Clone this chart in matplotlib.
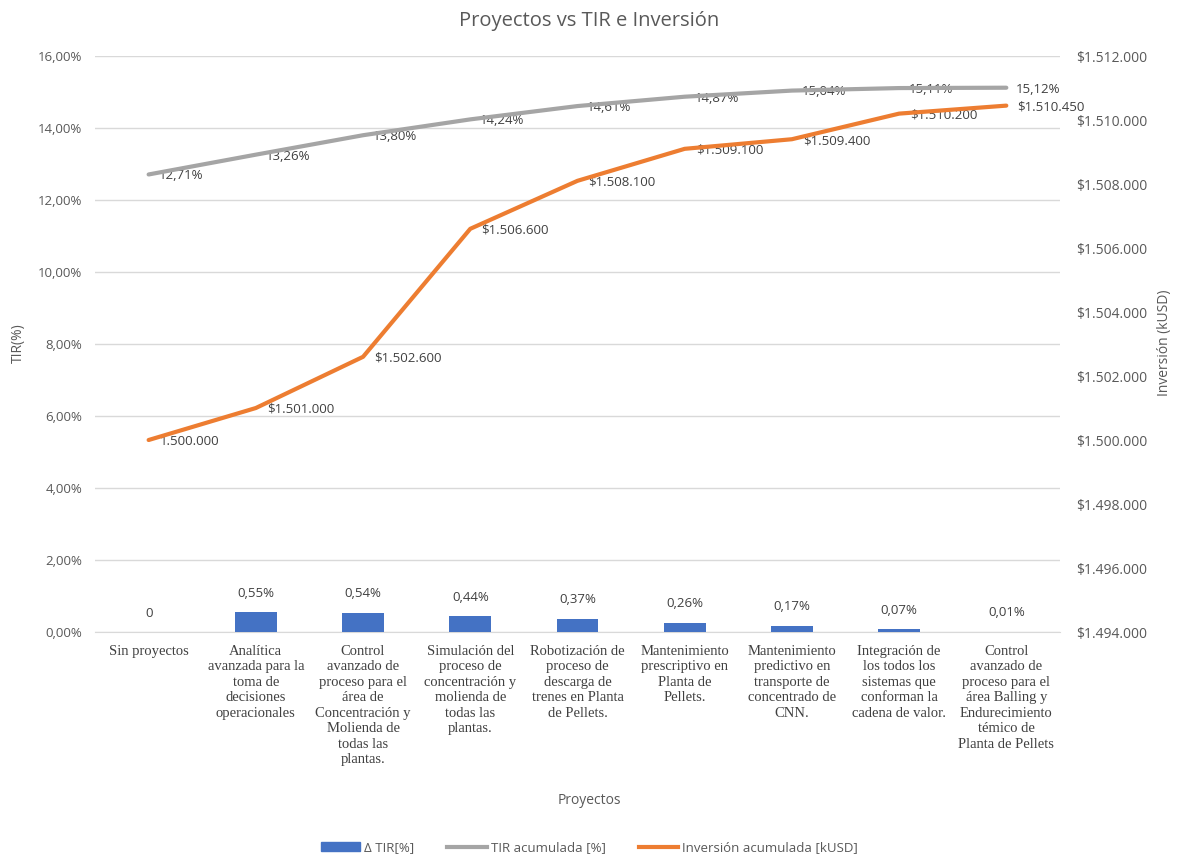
import matplotlib
matplotlib.use("Agg")
from matplotlib import pyplot as plt
from matplotlib.ticker import FuncFormatter, MultipleLocator
from matplotlib.lines import Line2D
from matplotlib.patches import Patch

proyectos = [
    "Sin proyectos",
    "Analítica\navanzada para la\ntoma de\ndecisiones\noperacionales",
    "Control\navanzado de\nproceso para el\nárea de\nConcentración y\nMolienda de\ntodas las\nplantas.",
    "Simulación del\nproceso de\nconcentración y\nmolienda de\ntodas las\nplantas.",
    "Robotización de\nproceso de\ndescarga de\ntrenes en Planta\nde Pellets.",
    "Mantenimiento\nprescriptivo en\nPlanta de\nPellets.",
    "Mantenimiento\npredictivo en\ntransporte de\nconcentrado de\nCNN.",
    "Integración de\nlos todos los\nsistemas que\nconforman la\ncadena de valor.",
    "Control\navanzado de\nproceso para el\nárea Balling y\nEndurecimiento\ntémico de\nPlanta de Pellets",
]
delta_tir = [0.0, 0.55, 0.54, 0.44, 0.37, 0.26, 0.17, 0.07, 0.01]
tir_acum = [12.71, 13.26, 13.80, 14.24, 14.61, 14.87, 15.04, 15.11, 15.12]
inversion = [1500000, 1501000, 1502600, 1506600, 1508100, 1509100, 1509400, 1510200, 1510450]

C_BAR = "#4472C4"
C_TIR = "#A5A5A5"
C_INV = "#ED7D31"
C_TXT = "#595959"
C_LBL = "#404040"
sans = ["Open Sans", "DejaVu Sans"]
serif = ["Liberation Serif", "DejaVu Serif"]


def pct(v, pos=None):
    return f"{v:.2f}".replace(".", ",") + "%"


def miles(v):
    return f"{int(round(v)):,}".replace(",", ".")


fig = plt.figure(figsize=(11.79, 8.58), dpi=100)
ax = fig.add_axes([0.0806, 0.2634, 0.8184, 0.6713])
ax2 = ax.twinx()

x = list(range(len(proyectos)))
ax.bar(x, delta_tir, width=0.39, color=C_BAR, zorder=3)
ax.plot(x, tir_acum, color=C_TIR, lw=3, zorder=4, solid_capstyle="round")
ax2.plot(x, inversion, color=C_INV, lw=3, zorder=4, solid_capstyle="round")

ax.set_xlim(-0.5, len(proyectos) - 0.5)
ax.set_ylim(0, 16)
ax.yaxis.set_major_locator(MultipleLocator(2))
ax.yaxis.set_major_formatter(FuncFormatter(pct))
ax2.set_ylim(1494000, 1512000)
ax2.yaxis.set_major_locator(MultipleLocator(2000))
ax2.yaxis.set_major_formatter(FuncFormatter(lambda v, p: "$" + miles(v)))

ax.grid(axis="y", color="#D9D9D9", lw=1, zorder=0)
for a in (ax, ax2):
    for s in a.spines.values():
        s.set_visible(False)
    a.tick_params(length=0, colors=C_TXT, labelsize=9.5)
    for t in a.get_yticklabels():
        t.set_fontfamily(sans)
ax.spines["bottom"].set_visible(True)
ax.spines["bottom"].set_color("#D9D9D9")
ax.tick_params(axis="y", pad=9)
ax2.tick_params(axis="y", pad=12, labelsize=10)

ax.set_xticks(x)
ax.set_xticklabels(proyectos, fontfamily=serif, fontsize=10.5, color=C_LBL,
                   linespacing=1.25, va="top")
ax.tick_params(axis="x", pad=9)

# data labels
for i, v in enumerate(delta_tir):
    txt = "0" if v == 0 else pct(v)
    ax.annotate(txt, (i, v), xytext=(0, 9), textcoords="offset points",
                ha="center", va="bottom", fontsize=9.5, color=C_LBL, fontfamily=sans)
for i, v in enumerate(tir_acum):
    ax.annotate(pct(v), (i, v), xytext=(7, -1), textcoords="offset points",
                ha="left", va="center", fontsize=9.5, color=C_LBL, fontfamily=sans)
for i, v in enumerate(inversion):
    txt = miles(v) if i == 0 else "$" + miles(v)
    ax2.annotate(txt, (i, v), xytext=(8, -1), textcoords="offset points",
                 ha="left", va="center", fontsize=9.5, color=C_LBL, fontfamily=sans)

fig.text(0.5, 0.976, "Proyectos vs TIR e Inversión", ha="center", va="center",
         fontsize=14.5, color=C_TXT, fontfamily=sans)
fig.text(0.5, 0.067, "Proyectos", ha="center", va="center",
         fontsize=10, color=C_TXT, fontfamily=sans)
fig.text(0.016, 0.6, "TIR(%)", ha="center", va="center", rotation=90,
         fontsize=10, color=C_TXT, fontfamily=sans)
fig.text(0.988, 0.6, "Inversión (kUSD)", ha="center", va="center", rotation=90,
         fontsize=10, color=C_TXT, fontfamily=sans)

handles = [
    Patch(color=C_BAR),
    Line2D([], [], color=C_TIR, lw=3),
    Line2D([], [], color=C_INV, lw=3),
]
labels = ["Δ TIR[%]", "TIR acumulada [%]", "Inversión acumulada [kUSD]"]
leg = fig.legend(handles, labels, loc="center", bbox_to_anchor=(0.5, 0.012),
                 ncol=3, frameon=False, handlelength=3,
                 handletextpad=0.3, columnspacing=2.5, prop={"family": sans, "size": 9.5})
for t in leg.get_texts():
    t.set_color(C_TXT)

fig.savefig("out.png", dpi=100)
